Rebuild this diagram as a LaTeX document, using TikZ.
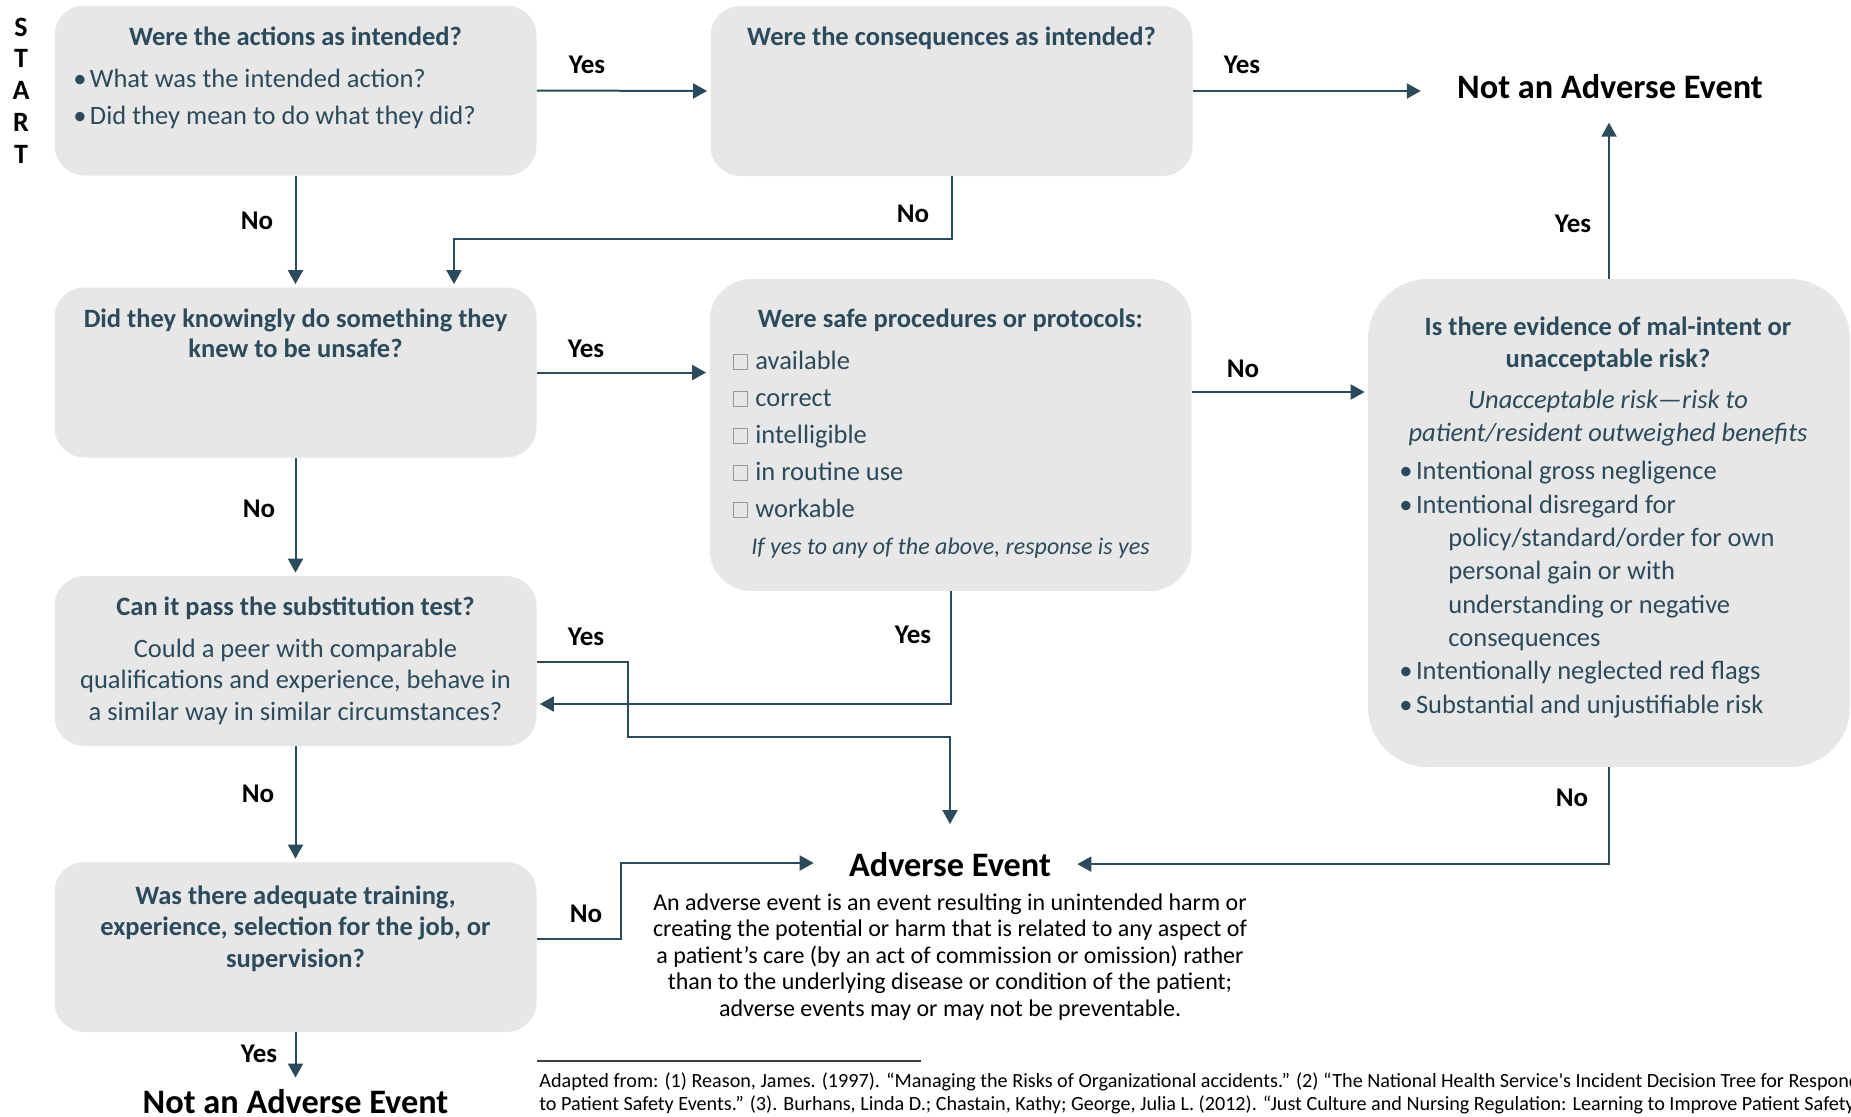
\documentclass[tikz,border=0pt]{standalone}
\usepackage{fontspec}
\setmainfont{Carlito}
\usetikzlibrary{arrows.meta}
\definecolor{slate}{HTML}{2B4A5B}
\definecolor{boxgray}{HTML}{E7E7E7}
\newcommand{\bul}{\makebox[8.3pt][l]{\textbullet}}
\newcommand{\chk}{{\color{black!40}\fboxsep=0pt\fboxrule=0.5pt\fbox{\rule{0pt}{7pt}\hspace{6.5pt}}}\hspace{3.5pt}}

\begin{document}
\begin{tikzpicture}[->,>={Triangle[width=7.5pt,length=7pt]},shorten >=1.5pt,
x=0.5pt,y=-0.5pt,
box/.style={fill=boxgray,rounded corners=15pt,inner sep=0pt,minimum width=241pt,minimum height=85pt},
head/.style={anchor=base,align=center,inner sep=0pt,text=slate,font=\fontsize{13.25pt}{15pt}\selectfont\bfseries},
body/.style={anchor=base,align=center,inner sep=0pt,text=slate,font=\fontsize{13.25pt}{15.75pt}\selectfont},
lbl/.style={anchor=base,inner sep=0pt,font=\fontsize{13.5pt}{16pt}\selectfont\bfseries},
result/.style={anchor=base,inner sep=0pt,font=\fontsize{17.15pt}{20pt}\selectfont\bfseries},
conn/.style={draw=slate,line width=1pt}]
\useasboundingbox (0,0) rectangle (1851,1116);

% multi-line nodes sit on the baseline of their last line
  \node[anchor=base,align=center,inner sep=0pt,font=\fontsize{14pt}{15.85pt}\selectfont\bfseries] (start) at (21,163) {S\\T\\A\\R\\T};

% top row
  \node[box] (actions) at (295.5,90.5) {};
  \node[head] (actionsQ) at (295.5,45) {Were the actions as intended?};
  \node[body,anchor=base west,align=left,font=\fontsize{13.25pt}{18.5pt}\selectfont] (actionsL) at (73,124)
    {\bul What was the intended action?\\\bul Did they mean to do what they did?};

  \node[box] (conseq) at (951.5,91) {};
  \node[head] (conseqQ) at (951.5,45) {Were the consequences as intended?};

  \node[result] (naeTop) at (1610,98) {Not an Adverse Event};

% middle row
  \node[box] (knew) at (295.5,372.5) {};
  \node[head,font=\fontsize{13.25pt}{14.75pt}\selectfont\bfseries] (knewQ) at (295.5,357)
    {Did they knowingly do something they\\knew to be unsafe?};

  \node[box,minimum height=156pt,rounded corners=21pt] (proc) at (950.5,435) {};
  \node[head] (procQ) at (950.5,327) {Were safe procedures or protocols:};
  \node[body,anchor=base west,align=left,font=\fontsize{13.25pt}{18.5pt}\selectfont] (procL) at (733,517)
    {\chk available\\\chk correct\\\chk intelligible\\\chk in routine use\\\chk workable};
  \node[body,font=\fontsize{12pt}{16pt}\selectfont\itshape] (procN) at (950.5,554)
    {If yes to any of the above, response is yes};

  \node[box,minimum height=244pt,rounded corners=30pt] (mal) at (1609,523) {};
  \node[head,font=\fontsize{13.25pt}{16pt}\selectfont\bfseries] (malQ) at (1608,367)
    {Is there evidence of mal-intent or\\unacceptable risk?};
  \node[body,font=\fontsize{13.25pt}{16.5pt}\selectfont\itshape] (malN) at (1608,441)
    {Unacceptable risk—risk to\\patient/resident outweighed benefits};
  \node[body,anchor=base west,align=left,font=\fontsize{13.25pt}{16.65pt}\selectfont] (malL) at (1399,713)
    {\bul Intentional gross negligence\\
     \bul Intentional disregard for\\
     \hspace*{24.5pt}policy/standard/order for own\\
     \hspace*{24.5pt}personal gain or with\\
     \hspace*{24.5pt}understanding or negative\\
     \hspace*{24.5pt}consequences\\
     \bul Intentionally neglected red flags\\
     \bul Substantial and unjustifiable risk};

% left column
  \node[box] (subst) at (295.5,661) {};
  \node[head] (substQ) at (295.5,615) {Can it pass the substitution test?};
  \node[body] (substT) at (295.5,720)
    {Could a peer with comparable\\qualifications and experience, behave in\\a similar way in similar circumstances?};

  \node[box] (train) at (295.5,947) {};
  \node[head,font=\fontsize{13.25pt}{15.75pt}\selectfont\bfseries] (trainQ) at (295.5,967)
    {Was there adequate training,\\experience, selection for the job, or\\supervision?};

  \node[result] (naeBot) at (295.5,1113) {Not an Adverse Event};

% adverse event
  \node[result] (adv) at (950,876) {Adverse Event};
  \node[anchor=base,align=center,inner sep=0pt,font=\fontsize{12pt}{13.25pt}\selectfont] (advT) at (950,1016)
    {An adverse event is an event resulting in unintended harm or\\
     creating the potential or harm that is related to any aspect of\\
     a patient’s care (by an act of commission or omission) rather\\
     than to the underlying disease or condition of the patient;\\
     adverse events may or may not be preventable.};

% straight arrows
  \path[every edge/.append style={conn}]
    (actions.east) edge (conseq.west)
    (conseq.east) edge[shorten >=18pt] (conseq.east -| naeTop.west)
    (actions.south) edge (knew.north)
    (knew.east) edge (knew.east -| proc.west)
    (proc.east |- 0,392) edge (mal.west |- 0,392)
    (mal.north) edge[shorten >=12pt] (mal.north |- naeTop.south)
    (knew.south) edge (subst.north)
    (subst.south) edge (train.north)
    (train.south) edge[shorten >=5.5pt] (naeBot.north);

% bent arrows
  \coordinate (cb) at (454,239);
  \coordinate (sa) at (628,737);
  \coordinate (ta) at (621,863);
  \draw[conn] (conseq.south) |- (cb) -- (cb |- knew.north);
  \draw[conn] (proc.south) |- (subst.east |- 0,704);
  \draw[conn,shorten >=13.75pt] (subst.east |- 0,662) -| (sa) -| (adv.north);
  \draw[conn,shorten >=17.5pt] (train.east |- 0,939) -| (ta) -- (ta -| adv.west);
  \draw[conn,shorten >=13pt] (mal.south) |- (adv.east);

% labels
  \node[lbl] (y1) at (587,73) {Yes};
  \node[lbl] (y2) at (1242,73) {Yes};
  \node[lbl] (n1) at (257,229) {No};
  \node[lbl] (n2) at (913,222) {No};
  \node[lbl] (y3) at (586,357) {Yes};
  \node[lbl] (n3) at (1243,377) {No};
  \node[lbl] (y4) at (1573,232) {Yes};
  \node[lbl] (n4) at (259,517) {No};
  \node[lbl] (y5) at (913,643) {Yes};
  \node[lbl] (y6) at (586,645) {Yes};
  \node[lbl] (n5) at (1572,806) {No};
  \node[lbl] (n6) at (258,802) {No};
  \node[lbl] (n7) at (586,922) {No};
  \node[lbl] (y7) at (259,1062) {Yes};

% footnote
  \draw[-,shorten >=0pt,black!75,line width=1pt] (537,1061) -- (921,1061);
  \begin{scope}
  \clip (0,0) rectangle (1851,1116);
  \node[anchor=base west,align=left,inner sep=0pt,font=\fontsize{10.08pt}{11.5pt}\selectfont] (refs) at (539,1110)
    {Adapted from: (1) Reason, James. (1997). “Managing the Risks of Organizational accidents.” (2) “The National Health Service\textquotesingle s Incident Decision Tree for Responding\\
     to Patient Safety Events.” (3). Burhans, Linda D.; Chastain, Kathy; George, Julia L. (2012). “Just Culture and Nursing Regulation: Learning to Improve Patient Safety.”};
  \end{scope}

\end{tikzpicture}
\end{document}
